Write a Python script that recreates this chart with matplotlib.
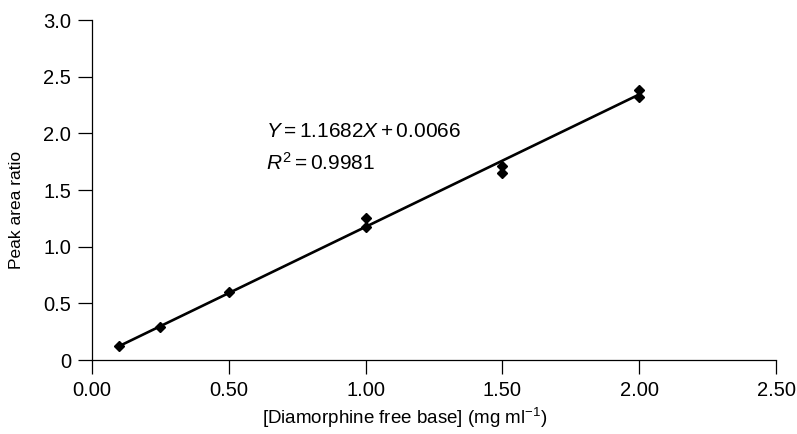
import matplotlib
matplotlib.use("Agg")
import matplotlib.pyplot as plt
import numpy as np

plt.rcParams["font.family"] = ["Liberation Sans", "DejaVu Sans"]
plt.rcParams["mathtext.fontset"] = "custom"
plt.rcParams["mathtext.rm"] = "Liberation Sans"
plt.rcParams["mathtext.it"] = "Liberation Sans:italic"

# Calibration standards (duplicate injections)
concentration = [0.10, 0.25, 0.50, 1.00, 1.00, 1.50, 1.50, 2.00, 2.00]
peak_area_ratio = [0.124, 0.294, 0.597, 1.25, 1.17, 1.71, 1.65, 2.38, 2.32]

# Regression line
slope = 1.1682
intercept = 0.0066
r_squared = 0.9981

x_ticks = [0.0, 0.5, 1.0, 1.5, 2.0, 2.5]
x_tick_labels = ["0.00", "0.50", "1.00", "1.50", "2.00", "2.50"]
y_ticks = [0.0, 0.5, 1.0, 1.5, 2.0, 2.5, 3.0]
y_tick_labels = ["0", "0.5", "1.0", "1.5", "2.0", "2.5", "3.0"]

fig = plt.figure(figsize=(7.97, 4.34), dpi=100)
ax = fig.add_axes([92 / 797, 74 / 434, (776 - 92) / 797, (360 - 20) / 434])

fit_x = np.array([min(concentration), max(concentration)])
ax.plot(fit_x, slope * fit_x + intercept, color="black", lw=1.9, zorder=2)
ax.plot(concentration, peak_area_ratio, linestyle="none", marker="D",
        markersize=5.5, color="black", zorder=3)

ax.set_xlim(0, 2.5)
ax.set_ylim(0, 3.0)
ax.set_xticks(x_ticks)
ax.set_xticklabels(x_tick_labels)
ax.set_yticks(y_ticks)
ax.set_yticklabels(y_tick_labels)

for side in ("top", "right"):
    ax.spines[side].set_visible(False)
for side in ("left", "bottom"):
    ax.spines[side].set_linewidth(0.9)

ax.tick_params(axis="both", direction="out", length=10, width=0.9,
               labelsize=14.5, colors="black", pad=5)

ax.set_xlabel("[Diamorphine free base] (mg ml$^{-1}$)", fontsize=13.5)
ax.xaxis.set_label_coords(0.457, -0.135)
ax.set_ylabel("Peak area ratio", fontsize=12.5)
ax.yaxis.set_label_coords(-0.099, 0.44)

ax.text(0.637, 1.97, f"$Y = {slope:.4f}X + {intercept:.4f}$", fontsize=15,
        ha="left", va="baseline")
ax.text(0.637, 1.68, f"$R^2 = {r_squared:.4f}$", fontsize=15,
        ha="left", va="baseline")

fig.savefig("out.png", dpi=100)
